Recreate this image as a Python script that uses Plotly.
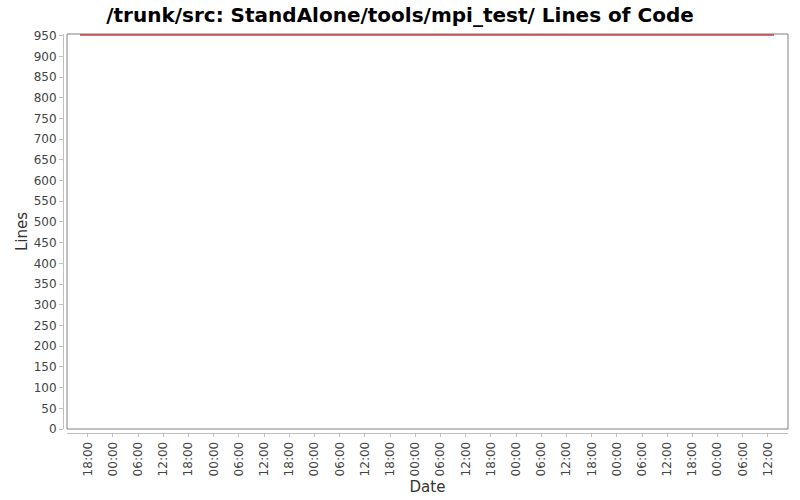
import plotly.graph_objects as go

# Lines of code over time (flat series)
dates = ["2008-03-10 16:10", "2008-03-17 13:26"]
lines = [952, 952]

x_range = ["2008-03-10 13:04", "2008-03-17 16:46"]
y_range = [0, 954]

title_text = "/trunk/src: StandAlone/tools/mpi_test/ Lines of Code"

fig = go.Figure()
fig.add_trace(go.Scatter(x=dates, y=lines, mode="lines",
                         line=dict(color="#d83c3c", width=2), hoverinfo="skip"))

# plot border like JFreeChart
fig.add_shape(type="rect", xref="x domain", yref="y domain", x0=0, x1=1, y0=0, y1=1,
              line=dict(color="#808080", width=1), layer="above")

ml, mr, mt, mb = 63, 12, 34, 67
pw = 800 - ml - mr
ph = 500 - mt - mb

fig.update_layout(
    width=800, height=500,
    margin=dict(l=ml, r=mr, t=mt, b=mb, autoexpand=False),
    paper_bgcolor="white", plot_bgcolor="white",
    showlegend=False,
    font=dict(family="DejaVu Sans", color="#444444", size=12),
    title=dict(text="<b>" + title_text + "</b>", x=0.5, xanchor="center",
               y=1 - 15 / 500, yanchor="middle", yref="container",
               font=dict(family="DejaVu Sans", size=20, color="black")),
    xaxis=dict(
        domain=[4 / pw, 1], range=x_range, type="date",
        anchor="free", position=0, automargin=False,
        tick0="2008-03-10 18:00", dtick=6 * 3600 * 1000, tickformat="%H:%M",
        tickangle=-90, ticks="outside", ticklen=3, tickcolor="#c0c0c0",
        showline=True, linecolor="#c0c0c0", linewidth=1,
        showgrid=False, zeroline=False,
        title=dict(text="Date", font=dict(size=15, color="#333333"), standoff=6),
    ),
    yaxis=dict(
        domain=[4 / ph, 1], range=y_range,
        anchor="free", position=0, automargin=False,
        dtick=50, tick0=0,
        ticks="outside", ticklen=4, tickcolor="#c0c0c0",
        showline=True, linecolor="#c0c0c0", linewidth=1,
        showgrid=False, zeroline=False,
        title=dict(text="Lines", font=dict(size=15, color="#333333"), standoff=1),
    ),
)

fig.write_html("out.html", config={"displayModeBar": False},
               post_script="document.body.style.margin='0';")
